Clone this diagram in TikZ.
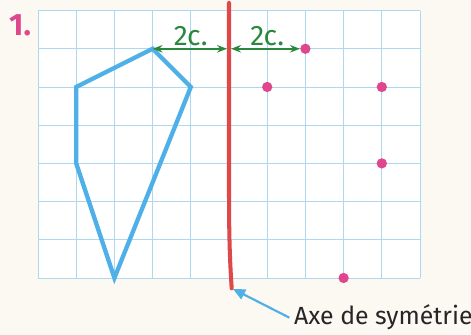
\documentclass[tikz,border=0pt]{standalone}
\usepackage{fontspec}
\setmainfont{Fira Sans}
\usepackage{xcolor}
\usepackage{tikz}
\usetikzlibrary{arrows.meta,positioning,calc}
\definecolor{gridblue}{RGB}{172,216,240}
\definecolor{shapeblue}{RGB}{78,176,230}
\definecolor{axisred}{RGB}{222,72,72}
\definecolor{dotpink}{RGB}{224,70,142}
\definecolor{markgreen}{RGB}{42,136,62}
\definecolor{paper}{RGB}{251,249,241}

\begin{document}
\begin{tikzpicture}[scale=1.0, >={Stealth[length=2.6mm]},
  dot/.style={circle, fill=dotpink, inner sep=0pt, minimum size=2.7mm},
  dist/.style={<->, markgreen, line width=1.4pt},
  distlbl/.style={above=-1pt, markgreen, font=\fontsize{21}{21}\selectfont}]
% page and grid
\fill[paper] (-0.995,-1.492) rectangle (11.335,7.277);
\useasboundingbox (-0.995,-1.492) rectangle (11.335,7.277);
\fill[white] (0,0) rectangle (10,7);
\draw[gridblue, line width=0.6pt] (0,0) grid (10,7);

% exercise number
\node[dotpink, font=\bfseries\fontsize{23}{23}\selectfont] (num) at (-0.47,6.62) {1.};

% figure to reflect
\coordinate (fa) at (3,6);
\coordinate (fb) at (4,5);
\coordinate (fc) at (2,0);
\coordinate (fd) at (1,3);
\coordinate (fe) at (1,5);
\draw[shapeblue, line width=3.2pt, line join=miter] (fa) -- (fb) -- (fc) -- (fd) -- (fe) -- cycle;

% axis of symmetry
\coordinate (axtop) at (5,7.2);
\coordinate (axmid) at (5,6);
\coordinate (axbot) at (5.07,-0.27);
\draw[axisred, line width=3pt, line cap=round] (axtop) -- (5,2.2) .. controls (5,0.8) and (5.04,0.2) .. (axbot);

% image points
\node[dot] (da) at (7,6) {};
\node[dot] (db) at (6,5) {};
\node[dot] (dc) at (9,5) {};
\node[dot] (dd) at (9,3) {};
\node[dot] (de) at (8,0) {};

% distances to the axis
\draw[dist, shorten >=1.5pt] (fa) -- (axmid);
\draw[dist, shorten <=1.5pt] (axmid) -- (da);
\node[distlbl] (lbla) at ($(fa)!0.5!(axmid)$) {2c.};
\node[distlbl] (lblb) at ($(axmid)!0.5!(da)$) {2c.};

% label of the axis
\node[anchor=base west, font=\fontsize{18.5}{18.5}\selectfont, text=black!85] (axlbl) at (6.58,-1.23) {Axe de symétrie};
\draw[-{Triangle[length=3.2mm, width=2.8mm]}, shapeblue, line width=1.6pt, shorten >=1pt] (axlbl.west) -- (axbot);
\end{tikzpicture}
\end{document}
